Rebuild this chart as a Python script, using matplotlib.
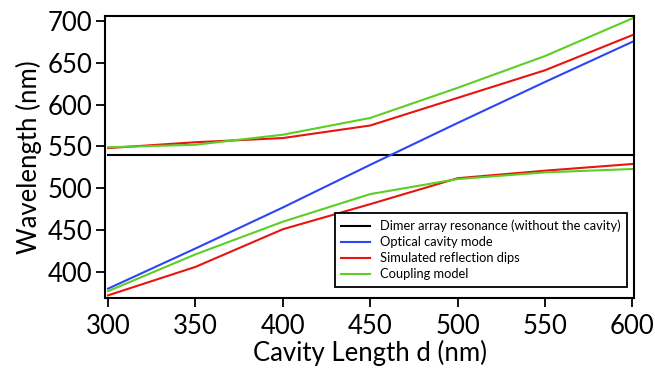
import matplotlib.pyplot as plt

plt.rcParams['font.family'] = ['Lato', 'DejaVu Sans']

cavity = [300, 350, 400, 450, 500, 550, 600]
dimer = [540, 540, 540, 540, 540, 540, 540]
cavity_mode = [380, 428, 477, 528, 578, 627, 675]
sim_upper = [548, 555, 560, 575, 608, 641, 683]
sim_lower = [372, 406, 451, 481, 512, 521, 529]
model_upper = [549, 552, 564, 584, 620, 658, 703]
model_lower = [377, 421, 460, 493, 511, 519, 523]

fig = plt.figure(figsize=(6.55, 3.7), dpi=100)
ax = fig.add_axes([0.161, 0.195, 0.807, 0.762])

lw = 1.5
ax.plot(cavity, dimer, color='black', lw=lw, label='Dimer array resonance (without the cavity)')
ax.plot(cavity, cavity_mode, color='#2b46f5', lw=lw, label='Optical cavity mode')
ax.plot(cavity, sim_upper, color='#e8140f', lw=lw, label='Simulated reflection dips')
ax.plot(cavity, sim_lower, color='#e8140f', lw=lw)
ax.plot(cavity, model_upper, color='#5cce24', lw=lw, label='Coupling model')
ax.plot(cavity, model_lower, color='#5cce24', lw=lw)

ax.set_xlim(298.5, 601)
ax.set_ylim(369, 706)
ax.set_xticks(cavity)
ax.set_yticks([400, 450, 500, 550, 600, 650, 700])
ax.tick_params(direction='out', length=6.5, width=1.3, labelsize=18.5)
ax.tick_params(axis='x', pad=5)
ax.tick_params(axis='y', pad=3)
for s in ax.spines.values():
    s.set_linewidth(1.5)

ax.set_xlabel('Cavity Length d (nm)', fontsize=18.5, labelpad=1)
ax.set_ylabel('Wavelength (nm)', fontsize=18.5, labelpad=4)

leg = ax.legend(loc='lower right', fontsize=9.3, frameon=True, fancybox=False,
                framealpha=1, edgecolor='black', handlelength=2.2, labelspacing=0.3,
                borderpad=0.5, borderaxespad=0, bbox_to_anchor=(0.987, 0.04))
leg.get_frame().set_linewidth(1.3)

fig.savefig('out.png', dpi=100)
